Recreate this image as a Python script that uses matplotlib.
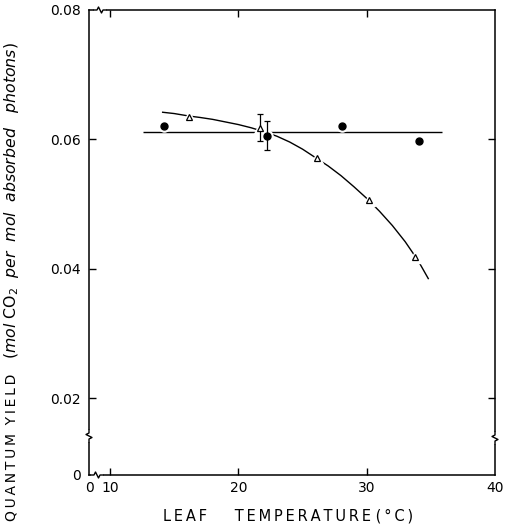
import matplotlib
matplotlib.use("Agg")
import matplotlib.pyplot as plt
from matplotlib.lines import Line2D

# Quantum yield vs leaf temperature
circle_temp = [14.2, 22.2, 28.05, 34.05]
circle_yield = [0.0620, 0.0605, 0.0620, 0.0598]

triangle_temp = [16.15, 21.7, 26.1, 30.2, 33.8]
triangle_yield = [0.0634, 0.0617, 0.0571, 0.0506, 0.0418]

# error bars at ~22 degC
err_circle_low, err_circle_high = 0.0583, 0.0628
err_triangle_low, err_triangle_high = 0.0597, 0.0640

# fitted lines
flat_fit_temp = [12.6, 35.9]
flat_fit_yield = [0.0611, 0.0611]

curve_temp = [14.1, 15.0, 16.2, 17.0, 18.0, 19.0, 20.0, 21.0, 22.0, 23.0, 24.0,
              25.0, 26.0, 27.0, 28.0, 29.0, 30.0, 31.0, 32.0, 33.0, 34.0, 34.8]
curve_yield = [0.0642, 0.0640, 0.0636, 0.0634, 0.0631, 0.0627, 0.0623, 0.0618,
               0.0612, 0.0605, 0.0596, 0.0585, 0.0572, 0.0559, 0.0544, 0.0527,
               0.0509, 0.0489, 0.0467, 0.0442, 0.0413, 0.0385]

x_ticks = [10, 20, 30, 40]
x_tick_labels = ["10", "20", "30", "40"]
y_ticks = [0.02, 0.04, 0.06, 0.08]
y_tick_labels = ["0.02", "0.04", "0.06", "0.08"]

# broken axes: the region near zero is compressed, so the limits start above zero
x_min, x_max = 8.36, 40.0
y_min, y_max = 0.00815, 0.0797

plt.rcParams["font.family"] = ["DejaVu Sans"]
fig = plt.figure(figsize=(5.05, 5.30), dpi=100)
ax = fig.add_axes([89 / 505, 1 - 475 / 530, 406 / 505, 465 / 530])
ax.set_xlim(x_min, x_max)
ax.set_ylim(y_min, y_max)

ink = "black"
lw = 1.0

ax.plot(flat_fit_temp, flat_fit_yield, color=ink, lw=lw, zorder=2, solid_capstyle="butt")
ax.plot(curve_temp, curve_yield, color=ink, lw=lw, zorder=2)

# white halos break the lines around each marker
ax.plot(circle_temp, circle_yield, ls="none", marker="o", ms=8, mfc="white", mec="white", zorder=3)
ax.plot(triangle_temp, triangle_yield, ls="none", marker="^", ms=9, mfc="white", mec="white", zorder=3)

ax.errorbar([circle_temp[1]], [circle_yield[1]],
            yerr=[[circle_yield[1] - err_circle_low], [err_circle_high - circle_yield[1]]],
            fmt="none", ecolor=ink, elinewidth=0.9, capsize=2.5, capthick=0.9, zorder=4)
ax.errorbar([triangle_temp[1]], [triangle_yield[1]],
            yerr=[[triangle_yield[1] - err_triangle_low], [err_triangle_high - triangle_yield[1]]],
            fmt="none", ecolor=ink, elinewidth=0.9, capsize=2.5, capthick=0.9, zorder=4)

ax.plot(circle_temp, circle_yield, ls="none", marker="o", ms=5, mfc=ink, mec=ink, zorder=5)
ax.plot(triangle_temp, triangle_yield, ls="none", marker="^", ms=5, mfc="white",
        mec=ink, mew=0.9, zorder=5)

# ticks: inward on all four sides, with "0" at the broken corner
ax.set_xticks([x_min] + x_ticks)
ax.set_xticklabels(["0"] + x_tick_labels)
ax.set_yticks([y_min] + y_ticks)
ax.set_yticklabels(["0"] + y_tick_labels)
ax.tick_params(direction="in", length=5, width=1.0, top=True, right=True,
               labelsize=10, colors=ink)
ax.tick_params(axis="x", pad=4)
ax.tick_params(axis="y", pad=6)
for ticks in (ax.xaxis.get_major_ticks(), ax.yaxis.get_major_ticks()):
    for t in (ticks[0], ticks[-1]):
        t.tick1line.set_visible(False)
        t.tick2line.set_visible(False)
for sp in ax.spines.values():
    sp.set_linewidth(1.1)
    sp.set_color(ink)

# axis break marks
W, H = 406.0, 465.0


def vbreak(xf, yf):
    fx = lambda dx: xf + dx / W
    fy = lambda dy: yf + dy / H
    ax.add_line(Line2D([fx(0), fx(0)], [fy(-4), fy(4)], transform=ax.transAxes,
                       color="white", lw=3, clip_on=False, zorder=6))
    ax.add_line(Line2D([fx(0), fx(0), fx(3), fx(-3), fx(0), fx(0)],
                       [fy(-6), fy(-3), fy(-1.5), fy(1.5), fy(3), fy(6)],
                       transform=ax.transAxes, color=ink, lw=1.0, clip_on=False, zorder=7))


def hbreak(xf, yf):
    fx = lambda dx: xf + dx / W
    fy = lambda dy: yf + dy / H
    ax.add_line(Line2D([fx(-4), fx(4)], [fy(0), fy(0)], transform=ax.transAxes,
                       color="white", lw=3, clip_on=False, zorder=6))
    ax.add_line(Line2D([fx(-6), fx(-3), fx(-1.5), fx(1.5), fx(3), fx(6)],
                       [fy(0), fy(0), fy(3), fy(-3), fy(0), fy(0)],
                       transform=ax.transAxes, color=ink, lw=1.0, clip_on=False, zorder=7))


vbreak(0.0, (475 - 436) / H)
vbreak(1.0, (475 - 438) / H)
hbreak((100 - 89) / W, 1.0)
hbreak((97 - 89) / W, 0.0)

ts = "\u2009"
xlabel = ts.join("LEAF") + "      " + ts.join("TEMPERATURE") + " " + ts.join("(°C)")
fig.text(288 / 505, 1 - 516 / 530, xlabel, ha="center", va="center", fontsize=10.5, color=ink)

# y-axis title in two parts: spaced capitals, then the italic unit
ylabel_caps = ts.join("QUANTUM") + "  " + ts.join("YIELD")
ylabel_unit = r"$\mathit{(mol}$ CO$_2$  $\mathit{per\ \ mol\ \ absorbed\ \ \ photons)}$"
fig.text(12 / 505, 1 - 521 / 530, ylabel_caps, ha="center", va="bottom", rotation=90,
         fontsize=10, color=ink)
fig.text(12 / 505, 1 - 359 / 530, ylabel_unit, ha="center", va="bottom", rotation=90,
         fontsize=11.3, color=ink)

fig.savefig("out.png", dpi=100)
